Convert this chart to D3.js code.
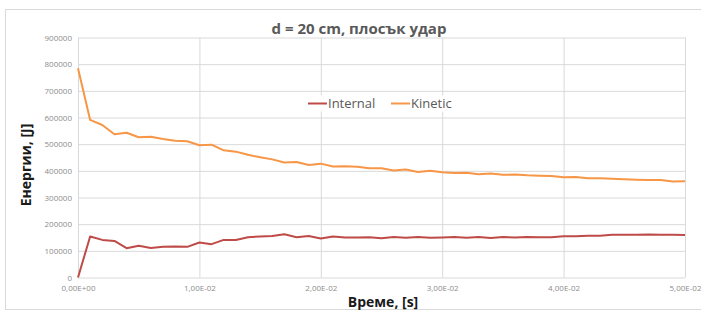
<!DOCTYPE html>
<html>
<head>
<meta charset="utf-8">
<script src="https://cdn.jsdelivr.net/npm/d3@7.9.0/dist/d3.min.js"></script>
<style>
  body { margin: 0; background: #fff; }
  text { font-family: "Open Sans", "Noto Sans", sans-serif; }
</style>
</head>
<body>
<svg id="chart" width="701" height="310"></svg>
<script>
// Time steps (s), one sample every 1e-3 s
const times = d3.range(51).map((i) => i / 1000);

// Internal energy, J
const internal = [
  0, 154000, 141000, 137000, 110000, 119000, 111000, 115000, 116000, 115000,
  131000, 125000, 141000, 141000, 151000, 154000, 156000, 162000, 151000, 156000,
  146000, 154000, 150000, 150000, 151000, 147000, 152000, 149000, 152000, 149000,
  150000, 152000, 149000, 152000, 148000, 152000, 150000, 152000, 151000, 151000,
  155000, 155000, 157000, 157000, 160000, 160000, 160000, 161000, 160000, 160000,
  159000
];

// Kinetic energy, J
const kinetic = [
  785000, 591000, 572000, 537000, 543000, 526000, 528000, 519000, 513000, 511000,
  496000, 498000, 477000, 472000, 460000, 451000, 443000, 431000, 433000, 422000,
  427000, 416000, 417000, 415000, 410000, 410000, 401000, 405000, 396000, 400000,
  395000, 392000, 393000, 387000, 390000, 385000, 386000, 383000, 382000, 381000,
  376000, 377000, 372000, 372000, 370000, 368000, 367000, 366000, 366000, 360000,
  361000
];

const seriesNames = ['Internal', 'Kinetic'];
const yTicks = d3.range(0, 900001, 100000);
const xTicks = [0, 0.01, 0.02, 0.03, 0.04, 0.05];

const svg = d3.select('#chart');

// Chart frame
svg.append('rect')
  .attr('x', 5.5).attr('y', 9.5)
  .attr('width', 700).attr('height', 300)
  .attr('fill', 'none')
  .attr('stroke', '#d9d9d9');

const x = d3.scaleLinear().domain([0, 0.05]).range([78, 685]);
const y = d3.scaleLinear().domain([0, 900000]).range([277.5, 37.5]);

// Excel style number: 1,00E-02
const fmtX = (d) => d.toExponential(2)
  .replace('.', ',')
  .replace(/e([+-])(\d)$/, 'E$10$2')
  .toUpperCase();

// Horizontal gridlines + y labels
const yAxis = svg.append('g')
  .attr('transform', `translate(${x.range()[0]},0)`)
  .call(d3.axisLeft(y).tickValues(yTicks).tickFormat(d3.format('d'))
    .tickSize(-(x.range()[1] - x.range()[0])).tickPadding(6));
yAxis.select('.domain').remove();
yAxis.selectAll('line').attr('stroke', '#d9d9d9');
yAxis.selectAll('text')
  .attr('fill', '#8c8c8c')
  .style('font-size', '8px');

// Vertical gridlines + x labels
const xAxis = svg.append('g')
  .attr('transform', `translate(0,${y.range()[1]})`)
  .call(d3.axisBottom(x).tickValues(xTicks).tickFormat(fmtX)
    .tickSize(y.range()[0] - y.range()[1]).tickPadding(8));
xAxis.select('.domain').remove();
xAxis.selectAll('line').attr('stroke', '#d9d9d9');
xAxis.selectAll('text')
  .attr('fill', '#8c8c8c')
  .style('font-size', '8px');

// Lines
const colors = d3.scaleOrdinal().domain(seriesNames).range(['#be4b48', '#f79646']);
const line = d3.line()
  .x((d, i) => x(times[i]))
  .y((d) => y(d));

[internal, kinetic].forEach((values, k) => {
  svg.append('path')
    .datum(values)
    .attr('d', line)
    .attr('fill', 'none')
    .attr('stroke', colors(seriesNames[k]))
    .attr('stroke-width', 2)
    .attr('stroke-linejoin', 'round');
});

// Legend
const legendX = [308, 391];
seriesNames.forEach((name, k) => {
  const g = svg.append('g').attr('transform', `translate(${legendX[k]},103.5)`);
  g.append('rect')
    .attr('x', -2).attr('y', -8).attr('width', k ? 62 : 70).attr('height', 16)
    .attr('fill', '#fff');
  g.append('line')
    .attr('x1', 0).attr('x2', 19)
    .attr('stroke', colors(name)).attr('stroke-width', 2);
  g.append('text')
    .attr('x', 20).attr('y', 4.5)
    .attr('fill', '#595959')
    .style('font-size', '13px')
    .text(name);
});

// Titles
svg.append('text')
  .attr('x', 359).attr('y', 34)
  .attr('text-anchor', 'middle')
  .attr('fill', '#595959')
  .style('font-size', '15px')
  .style('font-weight', 'bold')
  .text('d = 20 cm, плосък удар');

svg.append('text')
  .attr('transform', 'translate(31,165) rotate(-90)')
  .attr('text-anchor', 'middle')
  .attr('fill', '#1a1a1a')
  .style('font-size', '14px')
  .style('font-weight', 'bold')
  .text('Енергии, [J]');

svg.append('text')
  .attr('x', 383).attr('y', 307)
  .attr('text-anchor', 'middle')
  .attr('fill', '#1a1a1a')
  .style('font-size', '14px')
  .style('font-weight', 'bold')
  .text('Време, [s]');
</script>
</body>
</html>
